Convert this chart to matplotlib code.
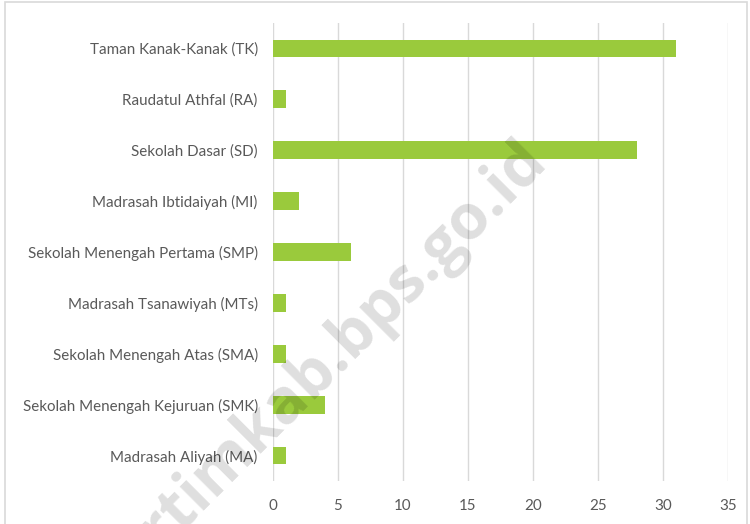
import matplotlib
matplotlib.use("Agg")
import matplotlib.pyplot as plt
import matplotlib.patches as patches

# jumlah sekolah menurut jenjang pendidikan
categories = [
    "Taman Kanak-Kanak (TK)",
    "Raudatul Athfal (RA)",
    "Sekolah Dasar (SD)",
    "Madrasah Ibtidaiyah (MI)",
    "Sekolah Menengah Pertama (SMP)",
    "Madrasah Tsanawiyah (MTs)",
    "Sekolah Menengah Atas (SMA)",
    "Sekolah Menengah Kejuruan (SMK)",
    "Madrasah Aliyah (MA)",
]
values = [31, 1, 28, 2, 6, 1, 1, 4, 1]
x_ticks = [0, 5, 10, 15, 20, 25, 30, 35]

plt.rcParams['font.family'] = ['Lato', 'DejaVu Sans']

fig = plt.figure(figsize=(7.5, 5.24), dpi=100)
ax = fig.add_axes([0.364, 0.082, 0.6067, 0.874])

y_pos = list(range(len(categories)))
ax.barh(y_pos, values, height=0.35, color="#9aca3c", zorder=2)

ax.set_yticks(y_pos)
ax.set_yticklabels(categories, fontsize=10.9, color="#595959")
ax.set_ylim(len(categories) - 0.5, -0.5)

ax.set_xlim(0, 35)
ax.set_xticks(x_ticks)
ax.set_xticklabels([str(t) for t in x_ticks], fontsize=10.9, color="#595959")

ax.grid(axis="x", color="#d9d9d9", linewidth=1, zorder=0)
for s in ax.spines.values():
    s.set_visible(False)
ax.tick_params(axis="both", length=0)
ax.tick_params(axis="y", pad=11)
ax.tick_params(axis="x", pad=13)

# border of the chart area
fig.patches.append(patches.Rectangle(
    (0.006, -0.01), 0.99, 1.006, transform=fig.transFigure,
    fill=False, edgecolor="#d9d9d9", linewidth=1.2))

# watermark
fig.text(0.732, 0.689, "sirtimkab.bps.go.id", rotation=45,
         rotation_mode="anchor", ha="right", va="baseline",
         fontsize=45, fontweight="bold", family="Open Sans",
         color="black", alpha=0.13, zorder=10)

fig.savefig("out.png", dpi=100)
